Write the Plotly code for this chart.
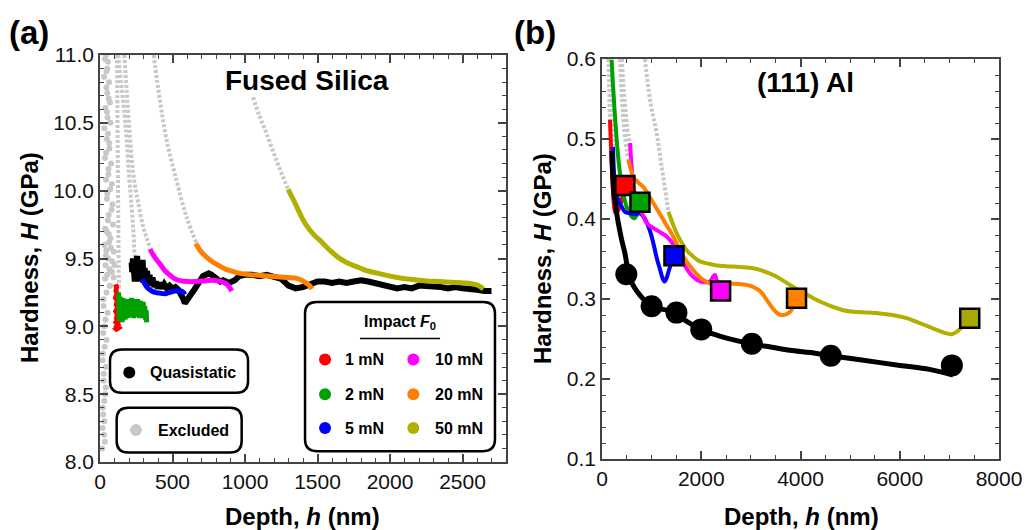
import plotly.graph_objects as go

FONT = "Arial, Liberation Sans, sans-serif"
GRAY = "#c8c8c8"
COL = {"1": "#ff0000", "2": "#00a000", "5": "#0000ff", "10": "#ff00ff", "20": "#ff8000", "50": "#b0b000"}
SQ_OLIVE = "#a8a800"

# ---------------- Panel (a): Fused Silica ----------------
a_ex1_h = [40, 55, 45, 62, 50, 68, 48, 72, 55, 64, 42, 76, 58, 82, 50, 86, 60, 90, 45, 72, 30, 95, 55, 38, 82, 35, 66, 25, 52, 30, 45, 20, 40, 25, 35, 20, 30, 18, 28, 15,
           60, 75, 40, 85, 65, 50, 95, 70, 45, 100, 35, 50, 28, 44, 60, 38, 52, 30, 47, 65, 35, 58, 42, 70, 48, 80, 55, 36, 62, 44,
           25, 38, 22, 32, 18, 26, 40, 30, 22, 34]
a_ex1_H = [11.0, 10.95, 10.88, 10.8, 10.72, 10.65, 10.58, 10.5, 10.42, 10.35, 10.28, 10.2, 10.12, 10.05, 9.98, 9.9, 9.82, 9.75, 9.7, 9.65, 9.6, 9.55, 9.5, 9.45, 9.4, 9.35, 9.3, 9.2, 9.1, 9.0, 8.9, 8.8, 8.7, 8.6, 8.5, 8.4, 8.3, 8.25, 8.2, 8.1,
           9.68, 9.58, 9.52, 9.48, 9.42, 9.38, 9.36, 9.3, 9.25, 9.45, 10.97, 10.9, 10.84, 10.76, 10.68, 10.61, 10.54, 10.46, 10.38, 10.31, 10.24, 10.16, 10.08, 10.01, 9.94, 9.86, 9.78, 9.72, 9.62, 9.56,
           9.15, 9.05, 8.95, 8.85, 8.75, 8.65, 8.55, 8.45, 8.35, 8.15]
a_ex2_h = [117, 120, 123, 126, 129, 131]
a_ex2_H = [11.0, 10.6, 10.2, 9.8, 9.45, 9.27]
a_ex5_h = [125, 150, 170, 184, 200, 218, 232, 241, 265, 294]
a_ex5_H = [11.0, 10.75, 10.55, 10.37, 10.12, 9.88, 9.68, 9.51, 9.41, 9.35]
a_ex10_h = [168, 185, 205, 230, 265, 299, 325, 345]
a_ex10_H = [11.0, 10.72, 10.42, 10.12, 9.9, 9.73, 9.64, 9.58]
a_ex20_h = [370, 414, 460, 529, 598, 667]
a_ex20_H = [11.0, 10.66, 10.37, 10.07, 9.80, 9.61]
a_ex50_h = [1055, 1100, 1149, 1218, 1297]
a_ex50_H = [10.69, 10.55, 10.42, 10.22, 10.01]

a_1_h = [108, 114, 110, 118, 107, 120, 112, 123, 108, 121, 114, 126, 110, 124, 116, 128, 112, 122, 118, 130, 114, 126, 120, 132]
a_1_H = [9.31, 9.29, 9.26, 9.24, 9.21, 9.19, 9.16, 9.14, 9.11, 9.09, 9.06, 9.05, 9.03, 9.01, 9.0, 8.99, 8.98, 8.97, 9.0, 9.02, 8.99, 9.04, 9.0, 9.02]
a_2_h = [128, 133, 138, 143, 148, 153, 158, 163, 168, 173, 178, 183, 188, 193, 198, 203, 208, 213, 218, 223, 228, 233, 238, 243, 248, 253, 258, 263, 268, 273, 278, 283, 288, 293, 298, 303, 308, 313, 318, 322]
a_2_H = [9.25, 9.04, 9.22, 9.05, 9.19, 9.03, 9.21, 9.07, 9.18, 9.05, 9.2, 9.08, 9.17, 9.06, 9.2, 9.09, 9.18, 9.07, 9.21, 9.08, 9.19, 9.06, 9.2, 9.09, 9.17, 9.07, 9.2, 9.08, 9.18, 9.06, 9.19, 9.08, 9.17, 9.07, 9.18, 9.06, 9.15, 9.05, 9.12, 9.03]
a_5_h = [294, 305, 322, 350, 379, 410, 448, 480, 517, 545, 563, 576, 586]
a_5_H = [9.35, 9.32, 9.29, 9.265, 9.25, 9.245, 9.24, 9.25, 9.26, 9.26, 9.26, 9.25, 9.235]
a_10_h = [345, 365, 391, 420, 448, 480, 517, 560, 609, 660, 724, 780, 816, 850, 874, 895, 908]
a_10_H = [9.57, 9.53, 9.49, 9.45, 9.41, 9.38, 9.35, 9.335, 9.33, 9.33, 9.335, 9.34, 9.335, 9.325, 9.31, 9.285, 9.26]
a_20_h = [660, 690, 724, 770, 816, 870, 931, 1000, 1115, 1220, 1299, 1350, 1391, 1420, 1445, 1462]
a_20_H = [9.61, 9.56, 9.52, 9.48, 9.45, 9.42, 9.40, 9.385, 9.375, 9.365, 9.36, 9.355, 9.34, 9.32, 9.30, 9.275]
a_50_h = [1297, 1340, 1379, 1420, 1471, 1530, 1586, 1640, 1701, 1770, 1839, 1920, 2000, 2080, 2161, 2250, 2345, 2420, 2506, 2560, 2598, 2625, 2644]
a_50_H = [10.01, 9.92, 9.83, 9.75, 9.68, 9.62, 9.56, 9.51, 9.47, 9.44, 9.41, 9.39, 9.37, 9.355, 9.345, 9.335, 9.33, 9.325, 9.32, 9.315, 9.305, 9.29, 9.275]

a_qs_h = [218, 222, 227, 232, 236, 240, 245, 250, 256, 262, 268, 274, 280, 287, 294, 300, 308, 316, 324, 333, 342, 352, 362, 373, 385, 398, 412, 427, 443, 460, 480, 500, 520, 540, 560, 575, 585, 595, 610, 630, 650, 670, 690, 710, 730, 750, 770, 790, 810, 830, 850, 870, 890, 910, 930, 960, 1000, 1050, 1100, 1150, 1200, 1250, 1300, 1350, 1400, 1450, 1500, 1550, 1600, 1650, 1700, 1750, 1800, 1850, 1900, 1950, 2000, 2050, 2100, 2150, 2200, 2250, 2300, 2350, 2400, 2450, 2500, 2550, 2600, 2650, 2700]
a_qs_H = [9.47, 9.40, 9.50, 9.36, 9.44, 9.33, 9.46, 9.38, 9.52, 9.35, 9.47, 9.33, 9.44, 9.36, 9.49, 9.32, 9.43, 9.34, 9.41, 9.31, 9.38, 9.30, 9.36, 9.29, 9.33, 9.28, 9.32, 9.28, 9.31, 9.28, 9.30, 9.28, 9.29, 9.27, 9.24, 9.20, 9.17, 9.19, 9.21, 9.24, 9.27, 9.31, 9.35, 9.37, 9.38, 9.39, 9.38, 9.36, 9.34, 9.33, 9.34, 9.33, 9.32, 9.33, 9.34, 9.37, 9.38, 9.38, 9.37, 9.38, 9.36, 9.35, 9.30, 9.28, 9.29, 9.31, 9.33, 9.33, 9.32, 9.33, 9.32, 9.33, 9.34, 9.33, 9.32, 9.30, 9.29, 9.28, 9.29, 9.28, 9.30, 9.30, 9.29, 9.29, 9.28, 9.29, 9.28, 9.28, 9.27, 9.26, 9.26]

# ---------------- Panel (b): (111) Al ----------------
b_ex1_h = [130, 145, 161]
b_ex1_H = [0.60, 0.56, 0.524]
b_ex5_h = [170, 195, 222]
b_ex5_H = [0.60, 0.54, 0.49]
b_ex20_h = [360, 400, 450, 500, 530]
b_ex20_H = [0.60, 0.55, 0.51, 0.485, 0.474]
b_ex10_h = [400, 440, 490, 530, 564]
b_ex10_H = [0.60, 0.56, 0.525, 0.505, 0.495]
b_ex50_h = [866, 967, 1102, 1203, 1303, 1337]
b_ex50_H = [0.60, 0.549, 0.507, 0.465, 0.424, 0.409]

b_1_h = [161, 175, 190, 205, 220, 240, 270, 320, 400, 460]
b_1_H = [0.524, 0.50, 0.475, 0.455, 0.435, 0.418, 0.408, 0.41, 0.425, 0.442]
b_2_h = [195, 210, 228, 260, 296, 330, 363, 420, 497, 564, 598, 650, 699, 765]
b_2_H = [0.599, 0.58, 0.561, 0.53, 0.499, 0.475, 0.457, 0.435, 0.415, 0.407, 0.403, 0.401, 0.405, 0.421]
b_5_h = [222, 240, 270, 320, 400, 463, 560, 660, 766, 866, 967, 1034, 1100, 1169, 1220, 1260, 1300, 1350, 1404, 1450]
b_5_H = [0.49, 0.46, 0.44, 0.425, 0.415, 0.409, 0.407, 0.406, 0.407, 0.40, 0.385, 0.37, 0.352, 0.337, 0.326, 0.322, 0.326, 0.336, 0.346, 0.354]
b_10_h = [564, 580, 598, 631, 700, 766, 900, 1102, 1303, 1450, 1572, 1773, 1975, 2100, 2176, 2240, 2277, 2320, 2390]
b_10_H = [0.495, 0.48, 0.465, 0.44, 0.425, 0.415, 0.395, 0.386, 0.378, 0.367, 0.353, 0.332, 0.322, 0.321, 0.322, 0.328, 0.33, 0.32, 0.31]
b_20_h = [530, 580, 631, 720, 832, 1034, 1236, 1437, 1639, 1840, 2041, 2243, 2450, 2646, 2850, 3049, 3200, 3318, 3420, 3520, 3600, 3654, 3720, 3788, 3850, 3920]
b_20_H = [0.474, 0.462, 0.453, 0.446, 0.440, 0.42, 0.399, 0.378, 0.353, 0.336, 0.324, 0.318, 0.318, 0.319, 0.318, 0.315, 0.309, 0.299, 0.29, 0.283, 0.28, 0.28, 0.281, 0.284, 0.29, 0.301]
b_50_h = [1337, 1420, 1505, 1600, 1706, 1840, 1975, 2150, 2311, 2500, 2781, 3049, 3200, 3452, 3650, 3855, 4050, 4258, 4460, 4661, 4860, 5064, 5350, 5602, 5850, 6139, 6400, 6676, 6850, 6945, 7050, 7147, 7220, 7281, 7410]
b_50_H = [0.409, 0.395, 0.382, 0.371, 0.361, 0.353, 0.347, 0.344, 0.342, 0.341, 0.340, 0.3385, 0.336, 0.33, 0.323, 0.315, 0.308, 0.301, 0.295, 0.290, 0.286, 0.284, 0.283, 0.282, 0.28, 0.276, 0.27, 0.263, 0.259, 0.257, 0.256, 0.259, 0.263, 0.2675, 0.276]

b_qs_h = [200, 210, 225, 245, 262, 290, 329, 396, 463, 510, 560, 620, 700, 832, 1000, 1150, 1300, 1500, 1706, 2000, 2250, 2512, 3000, 3400, 3788, 4200, 4610, 5200, 6005, 6600, 7073]
b_qs_H = [0.485, 0.465, 0.445, 0.43, 0.424, 0.41, 0.395, 0.374, 0.357, 0.340, 0.328, 0.318, 0.310, 0.300, 0.292, 0.288, 0.286, 0.281, 0.272, 0.262, 0.256, 0.251, 0.244, 0.240, 0.236, 0.233, 0.229, 0.224, 0.217, 0.212, 0.205]
b_qs_pts_h = [490, 1000, 1500, 2000, 3020, 4610, 7050]
b_qs_pts_H = [0.331, 0.291, 0.283, 0.262, 0.244, 0.229, 0.217]

F0_labels = ["1", "2", "5", "10", "20", "50"]
b_sq_h = [460, 765, 1450, 2390, 3920, 7410]
b_sq_H = [0.442, 0.421, 0.354, 0.310, 0.301, 0.276]

fig = go.Figure()

def gray_dots(x, y, xa, ya):
    fig.add_trace(go.Scatter(x=x, y=y, mode="lines", xaxis=xa, yaxis=ya,
                             line=dict(color=GRAY, width=4, dash="3px,2px", shape="spline"),
                             showlegend=False, hoverinfo="skip"))

def cline(x, y, color, w, xa, ya, spline=True):
    fig.add_trace(go.Scatter(x=x, y=y, mode="lines", xaxis=xa, yaxis=ya,
                             line=dict(color=color, width=w, shape="spline" if spline else "linear"),
                             showlegend=False))

# panel (a)
fig.add_trace(go.Scatter(x=a_ex1_h, y=a_ex1_H, mode="markers", xaxis="x", yaxis="y",
                         marker=dict(color=GRAY, size=6), showlegend=False))
for hx, hy in [(a_ex2_h, a_ex2_H), (a_ex5_h, a_ex5_H), (a_ex10_h, a_ex10_H), (a_ex20_h, a_ex20_H), (a_ex50_h, a_ex50_H)]:
    gray_dots(hx, hy, "x", "y")
cline(a_qs_h, a_qs_H, "black", 6, "x", "y", spline=False)
cline(a_1_h, a_1_H, COL["1"], 5, "x", "y", spline=False)
cline(a_2_h, a_2_H, COL["2"], 5, "x", "y", spline=False)
cline(a_5_h, a_5_H, COL["5"], 5, "x", "y")
cline(a_10_h, a_10_H, COL["10"], 5, "x", "y")
cline(a_20_h, a_20_H, COL["20"], 5, "x", "y")
cline(a_50_h, a_50_H, COL["50"], 5, "x", "y")

# panel (b)
for hx, hy in [(b_ex1_h, b_ex1_H), (b_ex5_h, b_ex5_H), (b_ex20_h, b_ex20_H), (b_ex10_h, b_ex10_H), (b_ex50_h, b_ex50_H)]:
    gray_dots(hx, hy, "x2", "y2")
cline(b_1_h, b_1_H, COL["1"], 4, "x2", "y2")
cline(b_2_h, b_2_H, COL["2"], 4, "x2", "y2")
cline(b_5_h, b_5_H, COL["5"], 4, "x2", "y2")
cline(b_10_h, b_10_H, COL["10"], 4, "x2", "y2")
cline(b_20_h, b_20_H, COL["20"], 4, "x2", "y2")
cline(b_50_h, b_50_H, COL["50"], 4, "x2", "y2")
cline(b_qs_h, b_qs_H, "black", 5, "x2", "y2")
fig.add_trace(go.Scatter(x=b_qs_pts_h, y=b_qs_pts_H, mode="markers", xaxis="x2", yaxis="y2",
                         marker=dict(color="black", size=22), showlegend=False))
sq_colors = [COL["1"], COL["2"], COL["5"], COL["10"], COL["20"], SQ_OLIVE]
fig.add_trace(go.Scatter(x=b_sq_h, y=b_sq_H, mode="markers", xaxis="x2", yaxis="y2",
                         marker=dict(color=sq_colors, size=19, symbol="square",
                                     line=dict(color="black", width=2.5)),
                         text=[f + " mN" for f in F0_labels], showlegend=False))

AX = "#444"
def axis_style(rng, dtick, mdtick, fmt=None):
    d = dict(range=rng, dtick=dtick, tick0=0, ticks="inside", ticklen=8, tickwidth=1.5, tickcolor=AX,
             minor=dict(dtick=mdtick, ticks="inside", ticklen=4, tickwidth=1.2, tickcolor=AX),
             mirror="ticks", showline=True, linecolor=AX, linewidth=1.5, automargin=False,
             showgrid=False, zeroline=False, tickfont=dict(family=FONT, size=21, color="#111"))
    if fmt:
        d["tickformat"] = fmt
    return d

W, H = 1029, 530
fig.update_layout(
    width=W, height=H, margin=dict(l=0, r=0, t=0, b=0),
    paper_bgcolor="white", plot_bgcolor="white",
    xaxis=dict(domain=[100 / W, 506 / W], anchor="y", **axis_style([0, 2800], 500, 100)),
    yaxis=dict(domain=[68 / H, 475 / H], anchor="x", **axis_style([8, 11], 0.5, 0.1, ".1f")),
    xaxis2=dict(domain=[602 / W, 999 / W], anchor="y2", **axis_style([0, 8000], 2000, 500)),
    yaxis2=dict(domain=[71 / H, 471 / H], anchor="x2", **axis_style([0.1, 0.6], 0.1, 0.02, ".1f")),
    showlegend=False,
)

def bold(t):
    return "<b>" + t + "</b>"

ann = [
    dict(text=bold("(a)"), x=29 / W, y=1 - 33 / H, xref="paper", yref="paper", font=dict(size=33)),
    dict(text=bold("(b)"), x=535 / W, y=1 - 33 / H, xref="paper", yref="paper", font=dict(size=33)),
    dict(text=bold("Fused Silica"), x=1428, y=10.81, xref="x", yref="y", font=dict(size=28)),
    dict(text=bold("(111) Al"), x=4100, y=0.571, xref="x2", yref="y2", font=dict(size=28)),
    dict(text=bold("Depth, <i>h</i> (nm)"), x=302 / W, y=1 - 516 / H, xref="paper", yref="paper", font=dict(size=24)),
    dict(text=bold("Depth, <i>h</i> (nm)"), x=801 / W, y=1 - 516 / H, xref="paper", yref="paper", font=dict(size=24)),
    dict(text=bold("Hardness, <i>H</i> (GPa)"), x=29 / W, y=1 - 258 / H, xref="paper", yref="paper", font=dict(size=24), textangle=-90),
    dict(text=bold("Hardness, <i>H</i> (GPa)"), x=542 / W, y=1 - 259 / H, xref="paper", yref="paper", font=dict(size=24), textangle=-90),
    dict(text=bold("Quasistatic"), x=333, y=8.66, xref="x", yref="y", xanchor="left", font=dict(size=16)),
    dict(text=bold("Excluded"), x=386, y=8.235, xref="x", yref="y", xanchor="left", font=dict(size=16)),
    dict(text=bold("Impact <i>F</i><sub>0</sub>"), x=2069, y=9.03, xref="x", yref="y", font=dict(size=16)),
]
leg_rows = [8.755, 8.50, 8.25]
leg_items = [("1 mN", COL["1"], 0, 0), ("2 mN", COL["2"], 0, 1), ("5 mN", COL["5"], 0, 2),
             ("10 mN", COL["10"], 1, 0), ("20 mN", COL["20"], 1, 1), ("50 mN", COL["50"], 1, 2)]
leg_dot_x = [1552, 2161]
leg_txt_x = [1678, 2294]
for label, c, col, row in leg_items:
    ann.append(dict(text=bold(label), x=leg_txt_x[col], y=leg_rows[row], xref="x", yref="y",
                    xanchor="left", font=dict(size=16)))
for a in ann:
    a.setdefault("showarrow", False)
    a.setdefault("xanchor", "center")
    a.setdefault("yanchor", "middle")
    a["font"].setdefault("family", FONT)
    a["font"].setdefault("color", "black")
fig.update_layout(annotations=ann)

def rbox(x0, x1, y0, y1, rx=80, ry=0.085):
    p = (f"M {x0+rx},{y0} L {x1-rx},{y0} Q {x1},{y0} {x1},{y0+ry} L {x1},{y1-ry} Q {x1},{y1} {x1-rx},{y1} "
         f"L {x0+rx},{y1} Q {x0},{y1} {x0},{y1-ry} L {x0},{y0+ry} Q {x0},{y0} {x0+rx},{y0} Z")
    return dict(type="path", path=p, xref="x", yref="y", line=dict(color="black", width=2.5),
                fillcolor="white", layer="below")

def dot(x, y, c, r=6):
    return dict(type="circle", xref="x", yref="y", xsizemode="pixel", ysizemode="pixel",
                xanchor=x, yanchor=y, x0=-r, x1=r, y0=-r, y1=r, fillcolor=c, line=dict(width=0),
                layer="below")

shapes = [rbox(69, 1021, 8.51, 8.83), rbox(115, 977, 8.07, 8.40), rbox(1414, 2724, 8.08, 9.18),
          dict(type="line", xref="x", yref="y", x0=1793, x1=2345, y0=8.91, y1=8.91,
               line=dict(color="black", width=1.5), layer="below"),
          dot(202, 8.66, "black"), dot(248, 8.235, GRAY)]
for label, c, col, row in leg_items:
    shapes.append(dot(leg_dot_x[col], leg_rows[row], c))
fig.update_layout(shapes=shapes)

fig.write_html("out.html")
